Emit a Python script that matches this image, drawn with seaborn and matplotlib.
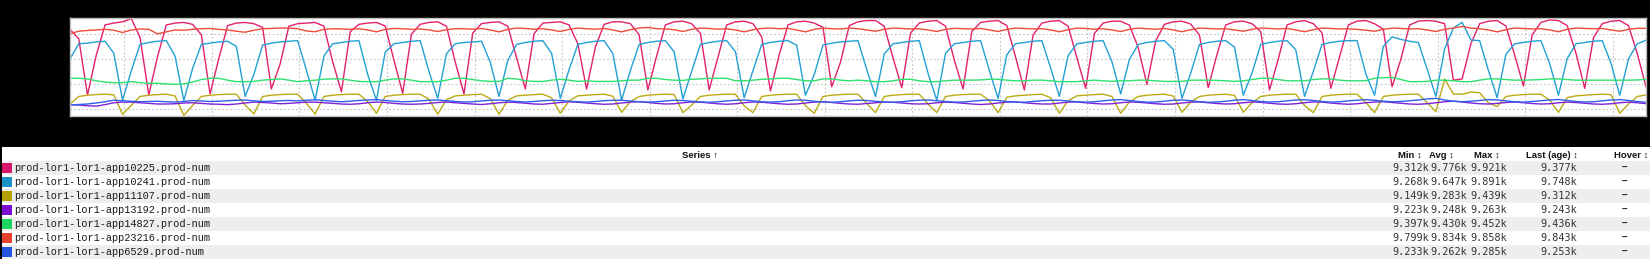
import numpy as np
import pandas as pd
import matplotlib
matplotlib.use("Agg")
import matplotlib.pyplot as plt
import matplotlib.dates as mdates
from matplotlib.patches import Rectangle
import seaborn as sns

# ---------------- data (values in units, shown as k) ----------------
series_names = [
    "prod-lor1-lor1-app10225.prod-num",
    "prod-lor1-lor1-app10241.prod-num",
    "prod-lor1-lor1-app11107.prod-num",
    "prod-lor1-lor1-app13192.prod-num",
    "prod-lor1-lor1-app14827.prod-num",
    "prod-lor1-lor1-app23216.prod-num",
    "prod-lor1-lor1-app6529.prod-num",
]

app10225 = [
    9835, 9760, 9312, 9629, 9870, 9885, 9895, 9921, 9771, 9312,
    9618, 9870, 9885, 9890, 9875, 9792, 9320, 9604, 9865, 9885,
    9890, 9880, 9851, 9360, 9559, 9860, 9880, 9885, 9890, 9860,
    9577, 9338, 9816, 9875, 9885, 9890, 9862, 9589, 9325, 9797,
    9875, 9890, 9895, 9860, 9574, 9320, 9806, 9880, 9890, 9895,
    9860, 9610, 9360, 9800, 9885, 9890, 9895, 9870, 9721, 9360,
    9693, 9875, 9895, 9895, 9880, 9792, 9352, 9622, 9870, 9895,
    9900, 9880, 9803, 9352, 9612, 9870, 9895, 9900, 9880, 9776,
    9344, 9632, 9870, 9895, 9900, 9885, 9851, 9378, 9573, 9865,
    9895, 9905, 9905, 9860, 9608, 9370, 9806, 9885, 9900, 9905,
    9860, 9589, 9360, 9818, 9890, 9900, 9905, 9865, 9613, 9352,
    9790, 9885, 9900, 9905, 9860, 9609, 9365, 9802, 9885, 9900,
    9900, 9868, 9691, 9397, 9743, 9875, 9895, 9900, 9877, 9790,
    9370, 9634, 9870, 9895, 9900, 9880, 9817, 9352, 9598, 9870,
    9895, 9905, 9880, 9807, 9365, 9615, 9870, 9900, 9905, 9880,
    9836, 9378, 9595, 9870, 9900, 9905, 9900, 9880, 9430, 9440,
    9720, 9880, 9900, 9905, 9862, 9631, 9383, 9791, 9890, 9910,
    9905, 9865, 9645, 9365, 9768, 9880, 9900, 9905, 9865, 9643,
    9377,
]

app10241 = [
    9600, 9720, 9725, 9735, 9740, 9645, 9270, 9504, 9715, 9730,
    9740, 9745, 9622, 9268, 9522, 9715, 9725, 9735, 9740, 9699,
    9300, 9476, 9710, 9725, 9735, 9740, 9745, 9510, 9270, 9622,
    9720, 9730, 9740, 9745, 9475, 9270, 9653, 9720, 9730, 9740,
    9745, 9499, 9285, 9641, 9720, 9730, 9735, 9740, 9573, 9300,
    9586, 9715, 9730, 9740, 9745, 9645, 9285, 9514, 9715, 9730,
    9740, 9745, 9642, 9270, 9507, 9715, 9730, 9740, 9745, 9656,
    9280, 9500, 9715, 9730, 9740, 9745, 9658, 9290, 9505, 9715,
    9730, 9740, 9745, 9709, 9310, 9474, 9710, 9725, 9735, 9740,
    9745, 9513, 9300, 9639, 9720, 9730, 9740, 9745, 9485, 9270,
    9644, 9720, 9730, 9740, 9745, 9508, 9285, 9633, 9720, 9730,
    9740, 9745, 9528, 9300, 9626, 9720, 9730, 9740, 9745, 9577,
    9320, 9595, 9715, 9730, 9740, 9745, 9676, 9285, 9486, 9715,
    9730, 9740, 9745, 9694, 9310, 9487, 9715, 9730, 9740, 9745,
    9672, 9300, 9500, 9715, 9730, 9740, 9745, 9745, 9480, 9310,
    9700, 9775, 9755, 9740, 9730, 9519, 9300, 9680, 9845, 9891,
    9750, 9745, 9508, 9290, 9637, 9720, 9730, 9740, 9745, 9562,
    9310, 9602, 9720, 9730, 9740, 9745, 9565, 9310, 9599, 9720,
    9748,
]

app11107 = [
    9240, 9300, 9310, 9315, 9318, 9313, 9158, 9229, 9300, 9310,
    9315, 9318, 9304, 9149, 9228, 9300, 9310, 9315, 9318, 9318,
    9232, 9160, 9300, 9310, 9315, 9318, 9318, 9245, 9160, 9300,
    9310, 9315, 9318, 9318, 9260, 9166, 9300, 9310, 9315, 9318,
    9318, 9278, 9158, 9275, 9305, 9310, 9315, 9318, 9284, 9158,
    9269, 9305, 9310, 9315, 9318, 9290, 9166, 9265, 9305, 9310,
    9315, 9318, 9302, 9174, 9258, 9300, 9310, 9315, 9318, 9315,
    9171, 9231, 9300, 9310, 9315, 9318, 9318, 9225, 9171, 9300,
    9310, 9315, 9318, 9318, 9226, 9166, 9300, 9310, 9315, 9318,
    9318, 9246, 9171, 9300, 9310, 9315, 9318, 9318, 9241, 9171,
    9300, 9310, 9315, 9318, 9318, 9267, 9171, 9294, 9305, 9310,
    9315, 9318, 9290, 9166, 9267, 9305, 9310, 9315, 9318, 9300,
    9166, 9256, 9300, 9310, 9315, 9318, 9304, 9174, 9256, 9300,
    9310, 9315, 9318, 9309, 9174, 9250, 9300, 9310, 9315, 9318,
    9318, 9228, 9171, 9300, 9310, 9315, 9318, 9318, 9253, 9171,
    9300, 9310, 9315, 9318, 9318, 9251, 9179, 9439, 9320, 9318,
    9335, 9330, 9250, 9220, 9300, 9310, 9315, 9318, 9318, 9271,
    9174, 9291, 9305, 9310, 9315, 9318, 9315, 9166, 9240, 9300,
    9312,
]

app13192 = [
    9235, 9232, 9226, 9223, 9235, 9250, 9255, 9255, 9250, 9245,
    9240, 9240, 9242, 9248, 9250, 9245, 9240, 9238, 9235, 9240,
    9248, 9255, 9252, 9248, 9242, 9245, 9250, 9255, 9255, 9250,
    9245, 9240, 9238, 9242, 9250, 9256, 9252, 9245, 9240, 9238,
    9240, 9245, 9252, 9256, 9250, 9245, 9240, 9236, 9242, 9250,
    9255, 9252, 9246, 9240, 9238, 9245, 9252, 9258, 9254, 9248,
    9242, 9238, 9240, 9248, 9255, 9258, 9252, 9245, 9240, 9242,
    9250, 9256, 9255, 9248, 9242, 9238, 9242, 9250, 9256, 9254,
    9248, 9242, 9238, 9240, 9248, 9255, 9258, 9252, 9245, 9240,
    9238, 9244, 9250, 9256, 9254, 9248, 9242, 9240, 9242, 9250,
    9255, 9252, 9246, 9240, 9236, 9240, 9248, 9255, 9257, 9250,
    9244, 9240, 9240, 9248, 9255, 9256, 9250, 9244, 9240, 9242,
    9250, 9256, 9254, 9248, 9242, 9238, 9240, 9248, 9255, 9256,
    9250, 9244, 9240, 9242, 9250, 9256, 9253, 9246, 9240, 9238,
    9242, 9250, 9257, 9255, 9248, 9242, 9238, 9242, 9250, 9256,
    9258, 9252, 9246, 9240, 9238, 9242, 9250, 9258, 9263, 9256,
    9248, 9242, 9240, 9245, 9252, 9256, 9250, 9244, 9240, 9242,
    9250, 9255, 9252, 9246, 9240, 9238, 9242, 9250, 9255, 9250,
    9243,
]

app14827 = [
    9445, 9445, 9440, 9425, 9415, 9410, 9410, 9418, 9410, 9405,
    9405, 9400, 9397, 9400, 9415, 9435, 9445, 9445, 9430, 9418,
    9418, 9420, 9430, 9435, 9440, 9430, 9418, 9425, 9430, 9438,
    9440, 9440, 9430, 9420, 9418, 9418, 9430, 9440, 9440, 9430,
    9418, 9418, 9418, 9430, 9445, 9445, 9435, 9425, 9420, 9420,
    9445, 9440, 9425, 9420, 9420, 9430, 9437, 9430, 9420, 9425,
    9420, 9420, 9420, 9425, 9430, 9430, 9445, 9445, 9435, 9430,
    9428, 9437, 9440, 9445, 9445, 9445, 9425, 9425, 9430, 9437,
    9440, 9445, 9445, 9435, 9425, 9425, 9440, 9440, 9430, 9425,
    9430, 9425, 9418, 9418, 9425, 9437, 9437, 9425, 9418, 9418,
    9425, 9430, 9430, 9430, 9432, 9437, 9437, 9430, 9425, 9425,
    9430, 9430, 9425, 9418, 9418, 9418, 9425, 9430, 9425, 9420,
    9425, 9425, 9430, 9430, 9425, 9420, 9420, 9420, 9430, 9430,
    9430, 9428, 9425, 9420, 9425, 9435, 9445, 9445, 9435, 9425,
    9425, 9425, 9435, 9440, 9440, 9430, 9425, 9425, 9425, 9445,
    9450, 9452, 9435, 9418, 9418, 9420, 9430, 9430, 9425, 9418,
    9418, 9430, 9440, 9440, 9435, 9430, 9430, 9432, 9435, 9440,
    9440, 9435, 9430, 9430, 9430, 9430, 9430, 9430, 9430, 9432,
    9436,
]

app23216 = [
    9800, 9820, 9826, 9830, 9835, 9828, 9810, 9830, 9838, 9835,
    9799, 9815, 9830, 9828, 9835, 9840, 9842, 9835, 9830, 9820,
    9812, 9828, 9840, 9842, 9845, 9845, 9840, 9822, 9816, 9835,
    9840, 9838, 9835, 9840, 9830, 9815, 9835, 9842, 9840, 9835,
    9838, 9830, 9818, 9832, 9840, 9840, 9836, 9842, 9830, 9815,
    9835, 9845, 9842, 9836, 9840, 9830, 9818, 9835, 9845, 9840,
    9836, 9842, 9830, 9815, 9832, 9845, 9850, 9840, 9838, 9832,
    9818, 9835, 9845, 9842, 9836, 9840, 9830, 9815, 9832, 9842,
    9845, 9840, 9842, 9830, 9815, 9835, 9845, 9840, 9838, 9845,
    9840, 9830, 9820, 9835, 9845, 9842, 9838, 9840, 9830, 9818,
    9835, 9843, 9840, 9838, 9842, 9830, 9818, 9835, 9845, 9842,
    9838, 9840, 9830, 9816, 9832, 9845, 9842, 9836, 9840, 9830,
    9818, 9835, 9845, 9840, 9836, 9842, 9830, 9816, 9832, 9845,
    9842, 9838, 9840, 9830, 9820, 9835, 9845, 9842, 9838, 9842,
    9830, 9816, 9832, 9845, 9842, 9838, 9840, 9835, 9828, 9820,
    9835, 9845, 9842, 9838, 9840, 9830, 9818, 9835, 9845, 9858,
    9845, 9840, 9830, 9815, 9832, 9845, 9842, 9838, 9840, 9830,
    9816, 9835, 9845, 9842, 9840, 9842, 9830, 9820, 9835, 9843,
    9843,
]

app6529 = [
    9233, 9236, 9240, 9248, 9258, 9270, 9266, 9262, 9258, 9260,
    9262, 9258, 9255, 9260, 9268, 9264, 9260, 9262, 9266, 9270,
    9272, 9265, 9260, 9262, 9266, 9268, 9265, 9270, 9274, 9268,
    9262, 9258, 9262, 9268, 9272, 9275, 9268, 9262, 9258, 9260,
    9265, 9270, 9272, 9266, 9260, 9256, 9258, 9264, 9270, 9272,
    9266, 9260, 9256, 9260, 9266, 9270, 9268, 9262, 9258, 9255,
    9260, 9266, 9270, 9270, 9264, 9258, 9255, 9258, 9264, 9270,
    9268, 9262, 9256, 9254, 9258, 9264, 9270, 9272, 9265, 9258,
    9255, 9258, 9266, 9272, 9270, 9262, 9256, 9254, 9258, 9265,
    9270, 9268, 9262, 9256, 9254, 9258, 9265, 9270, 9272, 9266,
    9260, 9255, 9256, 9262, 9268, 9272, 9268, 9260, 9255, 9254,
    9260, 9266, 9270, 9270, 9264, 9258, 9255, 9258, 9265, 9272,
    9275, 9268, 9260, 9255, 9256, 9262, 9270, 9272, 9266, 9258,
    9254, 9256, 9262, 9270, 9275, 9268, 9260, 9256, 9258, 9265,
    9272, 9274, 9268, 9260, 9255, 9258, 9265, 9270, 9275, 9270,
    9262, 9258, 9260, 9266, 9272, 9280, 9285, 9272, 9262, 9258,
    9262, 9268, 9275, 9272, 9265, 9258, 9255, 9260, 9266, 9272,
    9276, 9268, 9260, 9256, 9258, 9265, 9272, 9275, 9268, 9260,
    9253,
]

series_values = [app10225, app10241, app11107, app13192, app14827, app23216, app6529]

min_labels = ["9.312k", "9.268k", "9.149k", "9.223k", "9.397k", "9.799k", "9.233k"]
avg_labels = ["9.776k", "9.647k", "9.283k", "9.248k", "9.430k", "9.834k", "9.262k"]
max_labels = ["9.921k", "9.891k", "9.439k", "9.263k", "9.452k", "9.858k", "9.285k"]
last_labels = ["9.377k", "9.748k", "9.312k", "9.243k", "9.436k", "9.843k", "9.253k"]

header_labels = ["Series \u2191", "Min \u2195", "Avg \u2195", "Max \u2195", "Last (age) \u2195", "Hover \u2195"]

line_colors = ["#e2206f", "#22a0d4", "#bcaa14", "#7d22d8", "#2ee06c", "#ee4c38", "#2f5fea"]
swatch_colors = ["#d6176b", "#1a94c8", "#b3a200", "#7a0bcf", "#1dd660", "#e4412f", "#2254e0"]

# ---------------- build frame ----------------
start = pd.Timestamp("2015-06-01 10:07:36")
frames = []
for name, vals in zip(series_names, series_values):
    t = start + pd.to_timedelta(np.arange(len(vals)) * 2, unit="min")
    frames.append(pd.DataFrame({"time": t, "value": vals, "series": name}))
df = pd.concat(frames, ignore_index=True)

sns.set_style("white")
plt.rcParams["font.family"] = ["Liberation Sans", "DejaVu Sans"]

W, H = 1650, 259
fig = plt.figure(figsize=(W / 100, H / 100), dpi=100, facecolor="black")

# chart area
ax = fig.add_axes([70 / W, (H - 116.3) / H, 1576 / W, 98 / H])
ax.set_facecolor("white")
palette = dict(zip(series_names, line_colors))
sns.lineplot(data=df, x="time", y="value", hue="series", hue_order=series_names,
             palette=palette, linewidth=1.0, legend=False, ax=ax,
             estimator=None, errorbar=None)
ax.set_xlabel("")
ax.set_ylabel("")
ax.set_xlim(start, start + pd.Timedelta(minutes=360))
ax.set_ylim(9142, 9923)
ax.set_yticks([9200, 9400, 9600, 9800])
ax.xaxis.set_major_locator(mdates.MinuteLocator(byminute=[0, 20, 40]))
ax.tick_params(length=0, labelbottom=False, labelleft=False)
ax.grid(True, linestyle=(0, (1.5, 2.0)), color="#c4c4c4", linewidth=0.8)
ax.set_axisbelow(True)
for sp in ax.spines.values():
    sp.set_color("#bdbdbd")
    sp.set_linewidth(1.0)

# table area (pixel coordinates)
tax = fig.add_axes([0, 0, 1, 1])
tax.set_xlim(0, W)
tax.set_ylim(H, 0)
tax.axis("off")
tax.add_patch(Rectangle((2, 147), W - 2, H - 147, facecolor="white", edgecolor="none"))
for i in range(len(series_names)):
    y0 = 161 + 14 * i
    if i % 2 == 0:
        tax.add_patch(Rectangle((2, y0), W - 2, 14, facecolor="#eeeeee", edgecolor="none"))

hdr_y = 155.5
hdr_x = [700, 1409.5, 1441, 1487, 1552.5, 1631.5]
for lab, hx in zip(header_labels, hdr_x):
    tax.text(hx, hdr_y, lab, ha="center", va="center", fontsize=6.8, fontweight="bold",
             color="#111111", family=["Liberation Sans", "DejaVu Sans"])

for i, name in enumerate(series_names):
    yc = 168.3 + 14 * i
    tax.add_patch(Rectangle((2.3, yc - 5), 9.4, 10, facecolor=swatch_colors[i], edgecolor="none"))
    tax.text(14, yc, name, ha="left", va="center", fontsize=7.4,
             family="Liberation Mono", color="#1a1a1a")
    tax.text(1429, yc, min_labels[i], ha="right", va="center", fontsize=7.3,
             family="DejaVu Sans Mono", color="#333333")
    tax.text(1467, yc, avg_labels[i], ha="right", va="center", fontsize=7.3,
             family="DejaVu Sans Mono", color="#333333")
    tax.text(1507, yc, max_labels[i], ha="right", va="center", fontsize=7.3,
             family="DejaVu Sans Mono", color="#333333")
    tax.text(1577, yc, last_labels[i], ha="right", va="center", fontsize=7.3,
             family="DejaVu Sans Mono", color="#333333")
    tax.text(1624, yc, "\u2013", ha="center", va="center", fontsize=7.3,
             fontweight="bold", color="#222222", family=["Liberation Sans", "DejaVu Sans"])

fig.savefig("out.png", dpi=100, facecolor="black")
